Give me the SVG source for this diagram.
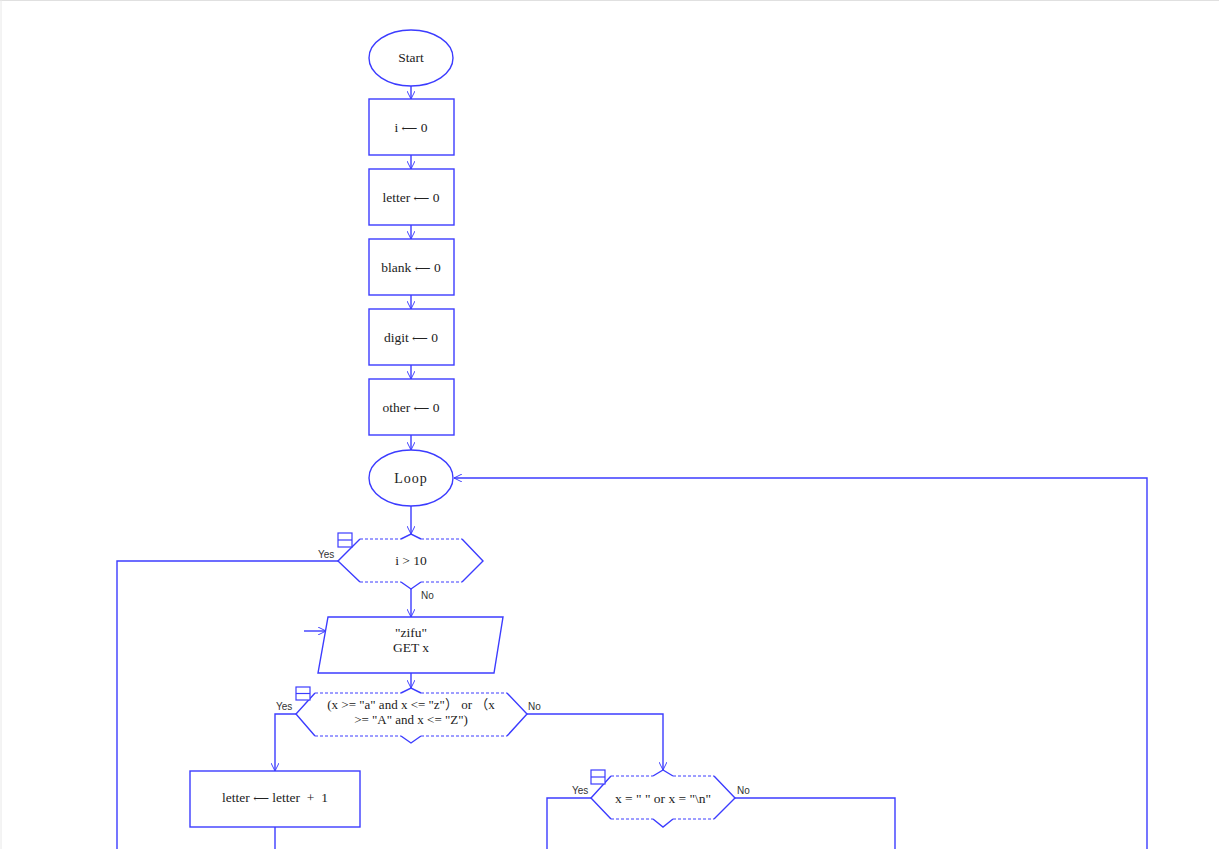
<svg xmlns="http://www.w3.org/2000/svg" width="1219" height="849" viewBox="0 0 1219 849">
<style>
.s{fill:#fff;stroke:#3c3cff;stroke-width:1.4}
.e{fill:none;stroke:#3c3cff;stroke-width:1.4}
.d{fill:none;stroke:#3c3cff;stroke-width:1;stroke-dasharray:3 2}
.c{fill:none;stroke:#3c3cff;stroke-width:1.4}
.t{font-family:"Liberation Serif","Noto Sans CJK SC",serif;font-size:13.5px;fill:#222;text-anchor:middle}
.ar{font-family:"DejaVu Serif",serif;font-size:11px}
.l{font-family:"Liberation Sans",sans-serif;font-size:10px;fill:#333}
.ic{fill:#fff;stroke:#3c3cff;stroke-width:1.2}
</style>
<defs>
<marker id="a" viewBox="0 0 10 10" refX="10" refY="5" markerWidth="8" markerHeight="8" markerUnits="userSpaceOnUse" orient="auto">
<polyline points="0,0 10,5 0,10" fill="none" stroke="#3c3cff" stroke-width="1.2"/>
</marker>
</defs>
<rect width="1219" height="849" fill="#fff"/>
<line x1="0" y1="0.5" x2="1219" y2="0.5" stroke="#e0e0e0"/>
<line x1="1" y1="0" x2="1" y2="849" stroke="#e8e8e8"/>

<g id="connectors">
<line class="c" x1="411" y1="86" x2="411" y2="99" marker-end="url(#a)"/>
<line class="c" x1="411" y1="155" x2="411" y2="169" marker-end="url(#a)"/>
<line class="c" x1="411" y1="225" x2="411" y2="239" marker-end="url(#a)"/>
<line class="c" x1="411" y1="295" x2="411" y2="309" marker-end="url(#a)"/>
<line class="c" x1="411" y1="365" x2="411" y2="379" marker-end="url(#a)"/>
<line class="c" x1="411" y1="435" x2="411" y2="450" marker-end="url(#a)"/>
<line class="c" x1="411" y1="506" x2="411" y2="534" marker-end="url(#a)"/>
<line class="c" x1="411" y1="589" x2="411" y2="617" marker-end="url(#a)"/>
<line class="c" x1="411" y1="673" x2="411" y2="688" marker-end="url(#a)"/>
<polyline class="c" points="338,561 117,561 117,849"/>
<polyline class="c" points="1147,849 1147,478 454,478" marker-end="url(#a)"/>
<line class="c" x1="304" y1="631" x2="326" y2="631" marker-end="url(#a)"/>
<polyline class="c" points="296,714 275,714 275,771" marker-end="url(#a)"/>
<line class="c" x1="275" y1="827" x2="275" y2="849"/>
<polyline class="c" points="527,714 663,714 663,770" marker-end="url(#a)"/>
<polyline class="c" points="591,798 547,798 547,849"/>
<polyline class="c" points="735,798 895,798 895,849"/>
<text class="l" x="318" y="558">Yes</text>
<text class="l" x="421" y="599">No</text>
<text class="l" x="276" y="710">Yes</text>
<text class="l" x="528" y="710">No</text>
<text class="l" x="572" y="794">Yes</text>
<text class="l" x="737" y="794">No</text>
</g>

<g id="start">
<ellipse class="s" cx="411" cy="58" rx="42" ry="28"/>
<text class="t" x="411" y="62">Start</text>
</g>
<g id="n_i">
<rect class="s" x="369" y="99" width="85" height="56"/>
<text class="t" x="411" y="132">i <tspan class="ar">⟵</tspan> 0</text>
</g>
<g id="n_letter">
<rect class="s" x="369" y="169" width="85" height="56"/>
<text class="t" x="411" y="202">letter <tspan class="ar">⟵</tspan> 0</text>
</g>
<g id="n_blank">
<rect class="s" x="369" y="239" width="85" height="56"/>
<text class="t" x="411" y="272">blank <tspan class="ar">⟵</tspan> 0</text>
</g>
<g id="n_digit">
<rect class="s" x="369" y="309" width="85" height="56"/>
<text class="t" x="411" y="342">digit <tspan class="ar">⟵</tspan> 0</text>
</g>
<g id="n_other">
<rect class="s" x="369" y="379" width="85" height="56"/>
<text class="t" x="411" y="412">other <tspan class="ar">⟵</tspan> 0</text>
</g>
<g id="loop">
<ellipse class="s" cx="411" cy="478" rx="42" ry="28"/>
<text class="t" x="411" y="483" style="font-size:14px;letter-spacing:1px">Loop</text>
</g>

<g id="dec1">
<polygon points="338,561 360,539 462,539 483,561 462,582 360,582" fill="#fff"/>
<polyline class="e" points="360,539 338,561 360,582"/>
<polyline class="e" points="462,539 483,561 462,582"/>
<line class="d" x1="360" y1="539" x2="401" y2="539"/>
<line class="d" x1="421" y1="539" x2="462" y2="539"/>
<polyline class="e" points="401,539 411,534 421,539"/>
<line class="d" x1="360" y1="582" x2="401" y2="582"/>
<line class="d" x1="421" y1="582" x2="462" y2="582"/>
<polyline class="e" points="401,582 411,589 421,582"/>
<rect class="ic" x="338" y="533" width="14" height="14"/>
<line class="e" x1="338" y1="540" x2="352" y2="540" style="stroke-width:1.2"/>
<text class="t" x="411" y="565">i &gt; 10</text>
</g>

<g id="input">
<polygon class="s" points="328,617 503,617 494,673 318,673"/>
<text class="t" x="411" y="637">"zifu"</text>
<text class="t" x="411" y="652">GET x</text>
</g>

<g id="dec2">
<polygon points="296,714 315,693 507,693 527,714 507,736 315,736" fill="#fff"/>
<polyline class="e" points="315,693 296,714 315,736"/>
<polyline class="e" points="507,693 527,714 507,736"/>
<line class="d" x1="315" y1="693" x2="401" y2="693"/>
<line class="d" x1="421" y1="693" x2="507" y2="693"/>
<polyline class="e" points="401,693 411,688 421,693"/>
<line class="d" x1="315" y1="736" x2="401" y2="736"/>
<line class="d" x1="421" y1="736" x2="507" y2="736"/>
<polyline class="e" points="401,736 411,743 421,736"/>
<rect class="ic" x="296" y="687" width="14" height="13"/>
<line class="e" x1="296" y1="693.5" x2="310" y2="693.5" style="stroke-width:1.2"/>
<text class="t" x="411" y="709" style="font-size:13px">(x &gt;= "a" and x &lt;= "z"） or （x</text>
<text class="t" x="411" y="724" style="font-size:13px">&gt;= "A" and x &lt;= "Z")</text>
</g>

<g id="inc_letter">
<rect class="s" x="190" y="771" width="170" height="56"/>
<text class="t" x="275" y="802">letter <tspan class="ar">⟵</tspan> letter &#160;+&#160; 1</text>
</g>

<g id="dec3">
<polygon points="591,798 611,776 714,776 735,798 714,819 611,819" fill="#fff"/>
<polyline class="e" points="611,776 591,798 611,819"/>
<polyline class="e" points="714,776 735,798 714,819"/>
<line class="d" x1="611" y1="776" x2="653" y2="776"/>
<line class="d" x1="673" y1="776" x2="714" y2="776"/>
<polyline class="e" points="653,776 663,770 673,776"/>
<line class="d" x1="611" y1="819" x2="653" y2="819"/>
<line class="d" x1="673" y1="819" x2="714" y2="819"/>
<polyline class="e" points="653,819 663,827 673,819"/>
<rect class="ic" x="591" y="770" width="14" height="14"/>
<line class="e" x1="591" y1="777" x2="605" y2="777" style="stroke-width:1.2"/>
<text class="t" x="663" y="803">x = " " or x = "\n"</text>
</g>
</svg>
